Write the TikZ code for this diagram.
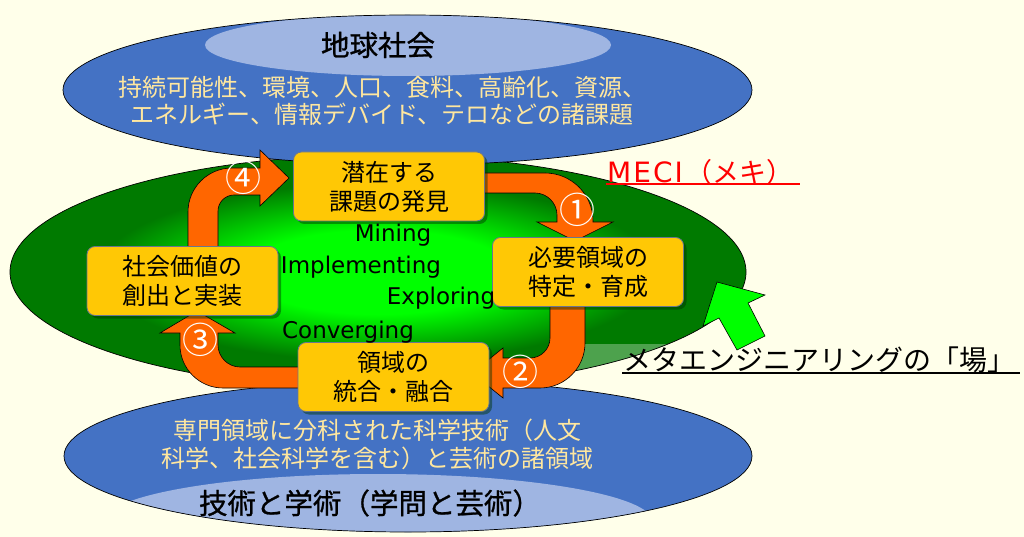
\documentclass[tikz,border=0pt]{standalone}
\usepackage{fontspec}
\setmainfont{Noto Sans CJK JP}
\newfontfamily\jpb[FakeBold=0.9]{Noto Sans CJK JP}
\newfontfamily\lat{DejaVu Sans}
\usetikzlibrary{shadows}
\definecolor{bg}{HTML}{FFFFEA}
\definecolor{blueA}{HTML}{4472C4}
\definecolor{blueL}{HTML}{9FB5E2}
\definecolor{gbright}{HTML}{00FF00}
\definecolor{gdark}{HTML}{007A00}
\definecolor{orangeA}{HTML}{FF6600}
\definecolor{gold}{HTML}{FFC805}
\definecolor{boxedge}{HTML}{6A7590}
\definecolor{paleY}{HTML}{FFE79F}
\definecolor{redA}{HTML}{FF0000}
\pgfdeclareradialshading{meci}{\pgfpointorigin}{color(0bp)=(gbright); color(9bp)=(gbright); color(19bp)=(gdark); color(25bp)=(gdark); color(50bp)=(gdark)}
\tikzset{
  ell/.style={draw=black, line width=0.7pt},
  arr/.style={fill=orangeA, draw=black, line width=0.6pt, line join=miter},
  boxst/.style={draw=boxedge, line width=0.8pt, fill=gold, rounded corners=8pt,
    minimum width=191pt, minimum height=69pt, inner sep=0pt, align=center,
    font=\fontsize{24}{29}\selectfont,
    drop shadow={shadow xshift=3pt, shadow yshift=-3pt, opacity=0.45, fill=black!80!green}},
  ytext/.style={text=paleY, align=center, font=\fontsize{24}{27}\selectfont},
  eng/.style={font=\lat\fontsize{23}{26}\selectfont, text=black},
  num/.style={text=white, font=\fontsize{36}{36}\selectfont, inner sep=0pt},
  ttl/.style={font=\jpb\fontsize{28.5}{30}\selectfont}
}
\begin{document}
\begin{tikzpicture}[x=1pt,y=-1pt]
\useasboundingbox (0,0) rectangle (1024,537);
\fill[bg] (0,0) rectangle (1024,537);

% green field
\shade[shading=meci] (378,272) ellipse [x radius=368, y radius=117];
\begin{scope}
  \clip (378,272) ellipse [x radius=368, y radius=117];
  \fill[white, opacity=0.3] (575,344) rectangle (760,400);
\end{scope}
\draw[ell] (378,272) ellipse [x radius=368, y radius=117];

% top ellipse
\begin{scope}
  \clip (407.5,90) ellipse [x radius=344.5, y radius=75];
  \fill[blueA] (0,0) rectangle (1024,200);
  \fill[blueL] (408,45) ellipse [x radius=203, y radius=31];
\end{scope}
\draw[ell] (407.5,90) ellipse [x radius=344.5, y radius=75];

% bottom ellipse
\begin{scope}
  \clip (408,456) ellipse [x radius=344, y radius=76];
  \fill[blueA] (0,370) rectangle (1024,537);
  \fill[blueL] (378,522) ellipse [x radius=275, y radius=48];
\end{scope}
\draw[ell] (408,456) ellipse [x radius=344, y radius=76];

\node[ttl] (title1) at (378,45) {地球社会};
\node[ytext] (issues) at (382,101) {持続可能性、環境、人口、食料、高齢化、資源、\\エネルギー、情報デバイド、テロなどの諸課題};
\node[ytext, font=\fontsize{24}{28}\selectfont] (fields) at (377,444) {専門領域に分科された科学技術（人文\\科学、社会科学を含む）と芸術の諸領域};
\node[ttl] (title2) at (370,503) {技術と学術（学問と芸術）};

% orange arrows
\filldraw[arr] (188,250) -- (188,212) .. controls (188,187.7) and (207.7,168) .. (232,168) -- (260,168) -- (260,150) -- (289,178) -- (260,206) -- (260,195) -- (234,195) .. controls (225.2,195) and (218,202.2) .. (218,211) -- (218,250) -- cycle;
\filldraw[arr] (480,173) -- (545,173) .. controls (571.5,173) and (593,194.5) .. (593,221) -- (593,222) -- (613,222) -- (575,241) -- (537,222) -- (557,222) -- (557,215) .. controls (557,203) and (547,193) .. (535,193) -- (480,193) -- cycle;
\filldraw[arr] (550,303) -- (585,303) -- (585,343) .. controls (585,367.8) and (564.8,388) .. (540,388) -- (503,388) -- (503,398) -- (472,373) -- (503,348) -- (503,358) -- (530,358) .. controls (541,358) and (550,349) .. (550,338) -- cycle;
\filldraw[arr] (300,367) -- (240,367) .. controls (228,367) and (218,357) .. (218,345) -- (218,333) -- (235,333) -- (197,311) -- (160,333) -- (180,333) -- (180,345) .. controls (180,368.7) and (199.3,388) .. (223,388) -- (300,388) -- cycle;

% boxes
\node[boxst] (discover) at (389,186.5) {潜在する\\課題の発見};
\node[boxst] (identify) at (588,272) {必要領域の\\特定・育成};
\node[boxst] (integrate) at (393.5,377) {領域の\\統合・融合};
\node[boxst] (implement) at (182.5,281) {社会価値の\\創出と実装};

% english labels
\node[eng] (mining) at (393,235) {Mining};
\node[eng] (impl) at (361,267) {Implementing};
\node[eng] (expl) at (441,298) {Exploring};
\node[eng] (conv) at (348,332) {Converging};

% circled numbers
\node[num] (n1) at (577,210) {①};
\node[num] (n2) at (520,372) {②};
\node[num] (n3) at (200,340) {③};
\node[num] (n4) at (243,178) {④};

% MECI label
\node[anchor=west, text=redA, inner sep=0pt] (meci) at (607,172) {{\lat\fontsize{28}{30}\selectfont M\kern2pt E\kern2pt C\kern2pt I}\kern3pt{\fontsize{27}{30}\selectfont （メキ）}};
\coordinate (meciL) at (606,184);
\coordinate (meciR) at (800,184);
\draw[redA, line width=1.4pt] (meciL) -- (meciR);

% green arrow
\filldraw[fill=gbright, draw=black, line width=0.6pt] (717,282) -- (765,295) -- (748,303) -- (765,336) -- (737,350) -- (719,318) -- (703,326) -- cycle;

% field label
\node[font=\fontsize{28}{30}\selectfont, inner sep=0pt] (field) at (819,360) {メタエンジニアリングの「場」};
\coordinate (fieldL) at (622,373);
\coordinate (fieldR) at (1020,373);
\draw[black, line width=1.4pt] (fieldL) -- (fieldR);
\end{tikzpicture}
\end{document}
